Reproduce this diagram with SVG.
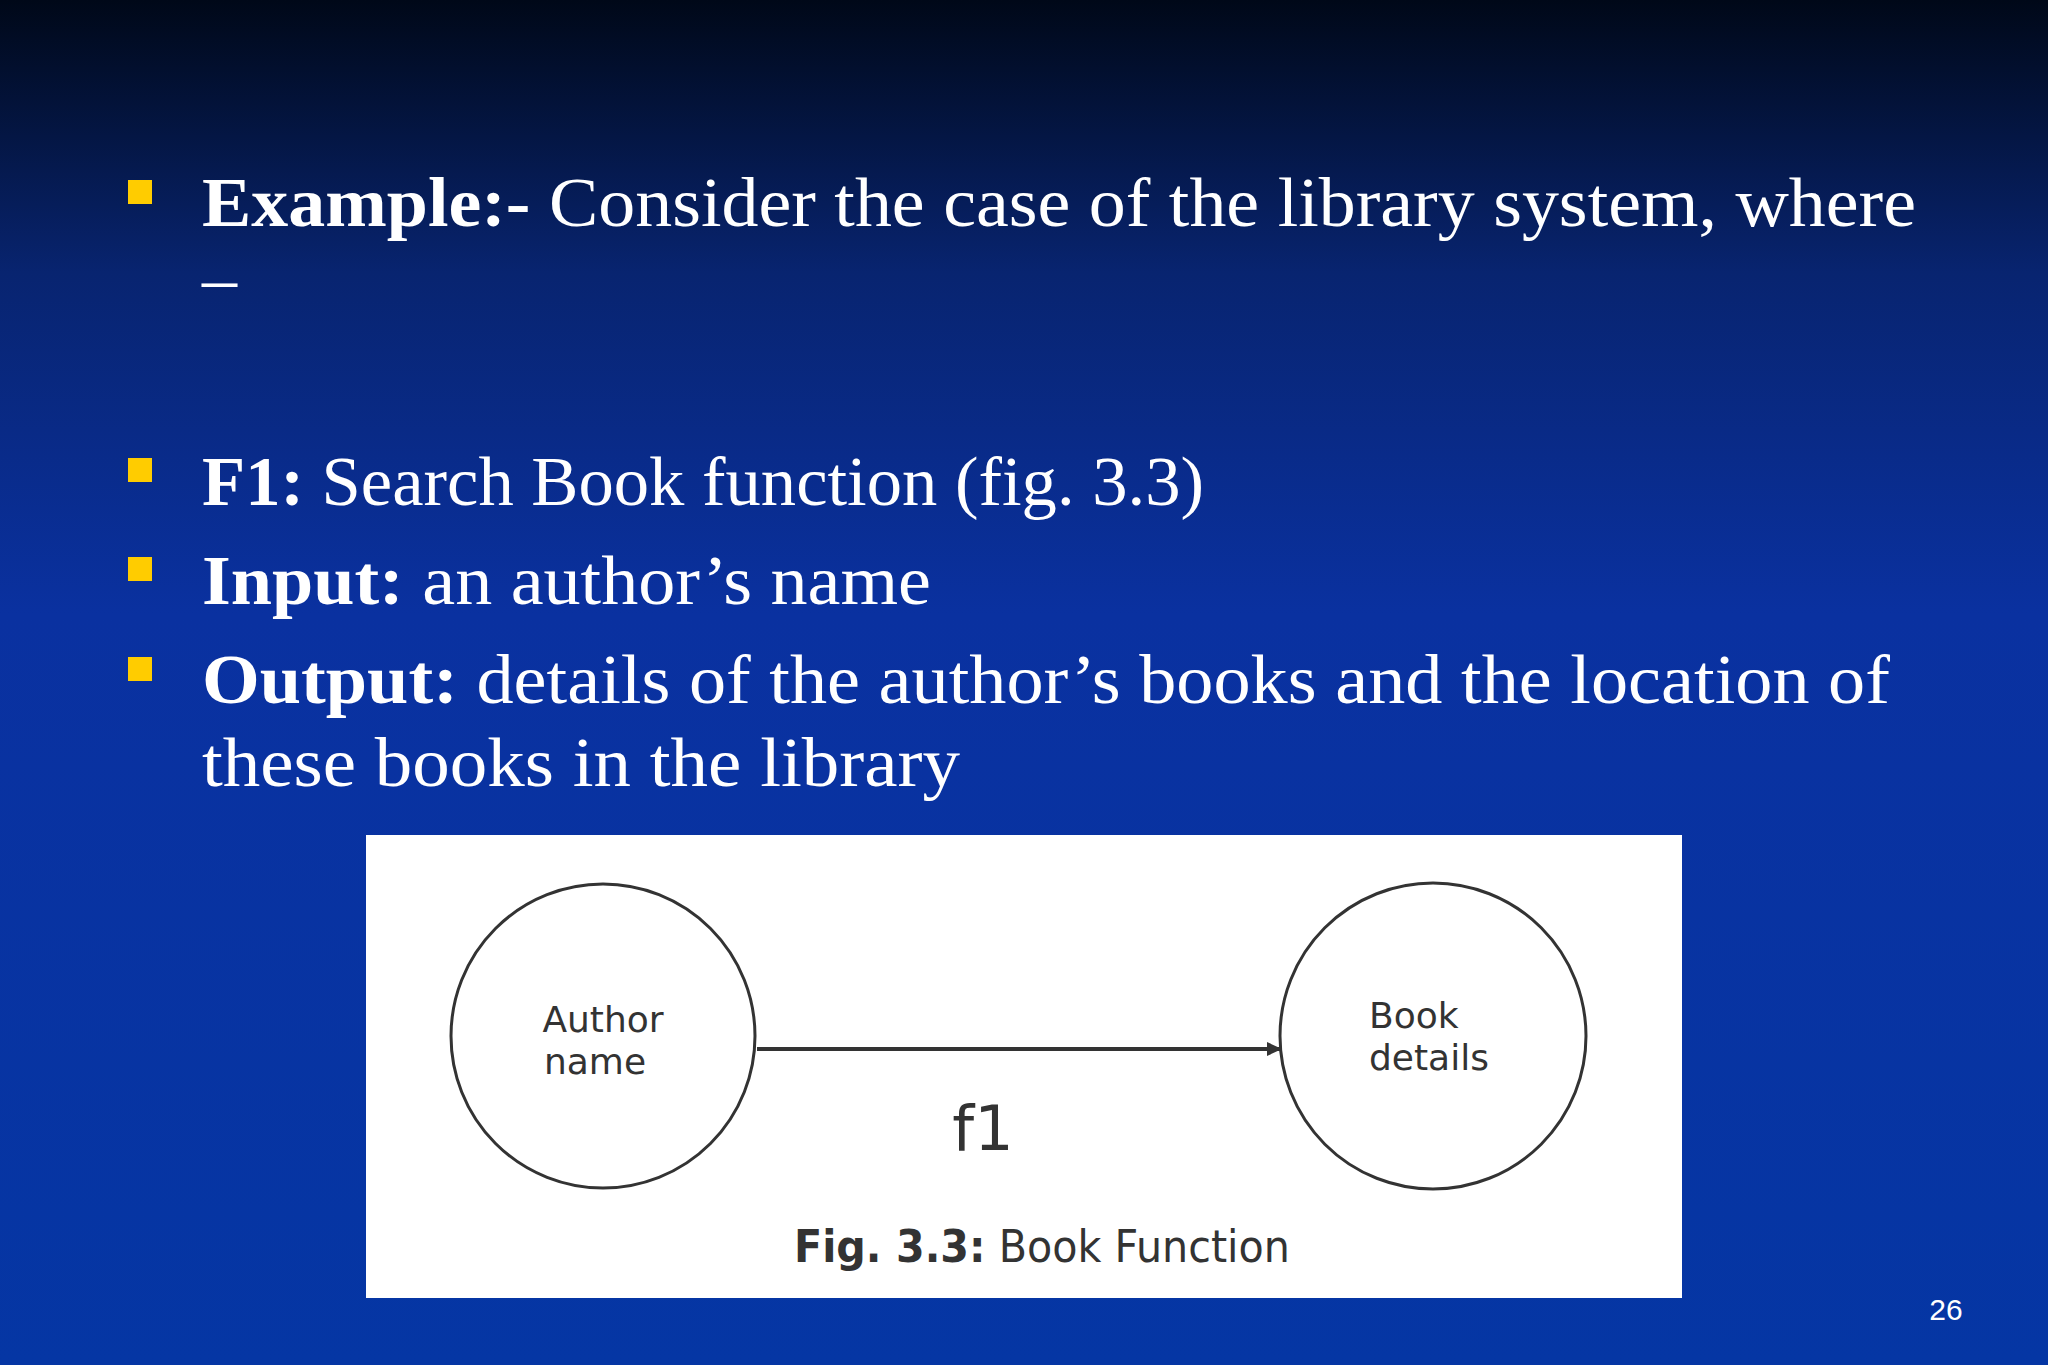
<svg xmlns="http://www.w3.org/2000/svg" width="2048" height="1365" viewBox="0 0 2048 1365">
<defs>
<linearGradient id="bg" x1="0" y1="0" x2="0" y2="1">
<stop offset="0" stop-color="#000818"/>
<stop offset="0.2" stop-color="#082470"/>
<stop offset="0.45" stop-color="#0a31a0"/>
<stop offset="1" stop-color="#0536a4"/>
</linearGradient>
<marker id="ah" markerWidth="16" markerHeight="16" refX="14" refY="8" orient="auto" markerUnits="userSpaceOnUse">
<path d="M0,1 L15,8 L0,15 Z" fill="#333"/>
</marker>
<style>
.t{font-family:"Liberation Serif",serif;font-size:70px;fill:#fff}
.b{font-weight:bold}
.bul{fill:#ffcc00}
.c{fill:#fff;stroke:#333;stroke-width:3}
.s{font-family:"DejaVu Sans",sans-serif;fill:#333}
</style>
</defs>
<rect width="2048" height="1365" fill="url(#bg)"/>
<g id="bullets">
<rect class="bul" x="128" y="180" width="24" height="24"/>
<rect class="bul" x="128" y="458" width="24" height="24"/>
<rect class="bul" x="128" y="557" width="24" height="24"/>
<rect class="bul" x="128" y="657" width="24" height="24"/>
</g>
<g id="text">
<text class="t" x="202" y="226" textLength="1714" lengthAdjust="spacingAndGlyphs"><tspan class="b">Example:-</tspan> Consider the case of the library system, where</text>
<text class="t" x="202" y="302">–</text>
<text class="t" x="202" y="505" textLength="1002" lengthAdjust="spacingAndGlyphs"><tspan class="b">F1:</tspan> Search Book function (fig. 3.3)</text>
<text class="t" x="202" y="604" textLength="729" lengthAdjust="spacingAndGlyphs"><tspan class="b">Input:</tspan> an author’s name</text>
<text class="t" x="202" y="703" textLength="1688" lengthAdjust="spacingAndGlyphs"><tspan class="b">Output:</tspan> details of the author’s books and the location of</text>
<text class="t" x="202" y="786" textLength="758" lengthAdjust="spacingAndGlyphs">these books in the library</text>
</g>
<rect x="366" y="835" width="1316" height="463" fill="#fff"/>
<g id="author">
<circle class="c" cx="603" cy="1036" r="152"/>
<text class="s" x="603" y="1032" font-size="36" text-anchor="middle">Author</text>
<text class="s" x="595" y="1074" font-size="36" text-anchor="middle">name</text>
</g>
<g id="book">
<circle class="c" cx="1433" cy="1036" r="153"/>
<text class="s" x="1369" y="1028" font-size="36">Book</text>
<text class="s" x="1369" y="1070" font-size="36">details</text>
</g>
<g id="connectors">
<line x1="757" y1="1049" x2="1281" y2="1049" stroke="#333" stroke-width="4" marker-end="url(#ah)"/>
<text class="s" x="983" y="1150" font-size="62" text-anchor="middle">f1</text>
</g>
<text class="s" x="794" y="1262" font-size="44" fill="#111" textLength="496" lengthAdjust="spacingAndGlyphs"><tspan font-weight="bold">Fig. 3.3:</tspan> Book Function</text>
<text x="1946" y="1320" font-family="Liberation Sans,sans-serif" font-size="30" fill="#fff" text-anchor="middle">26</text>
</svg>
